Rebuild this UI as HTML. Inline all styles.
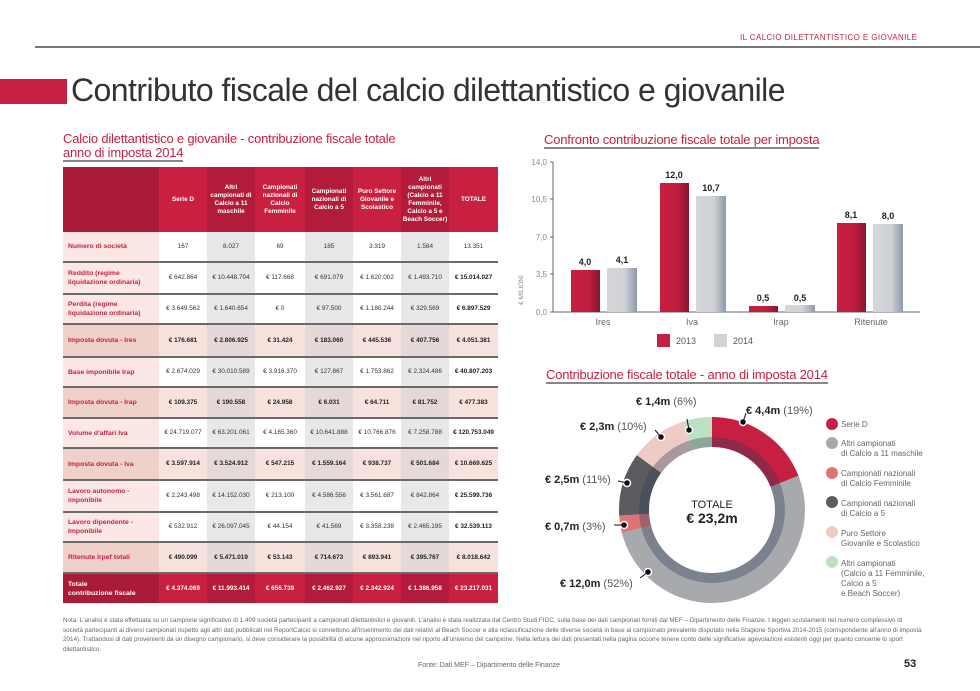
<!DOCTYPE html>
<html><head><meta charset="utf-8"><style>
*{margin:0;padding:0;box-sizing:border-box}
body{width:980px;height:691px;background:#fff;font-family:"Liberation Sans",sans-serif;position:relative;overflow:hidden}
.a{position:absolute}
table{border-collapse:collapse;position:absolute;left:63px;top:167px;width:435px;table-layout:fixed}
td{font-size:6.4px;text-align:center;color:#333;padding:0 1px;border-bottom:2px solid #6a6a6a;line-height:8px}
td.l{text-align:left;color:#c71f41;font-weight:bold;padding-left:5px;padding-right:14px;background:#fbe8e4;font-size:6.8px;line-height:9px}
tr.h td{background:#c9203f;color:#fff;font-weight:bold;border-bottom:none;height:65px}
tr.h td.d{background:#b21c3a}
tr.h td.l{background:#a91b37}
td.g{background:#e8e8ea}
tr.b td{background:#f8e2dd;font-weight:bold;color:#222}
tr.b td.g{background:#e4d9d8}
tr.b td.l{background:#f0d0ca;color:#c71f41}
tr.t td{background:#c9203f;color:#fff;font-weight:bold;border-bottom:none}
tr.t td.g{background:#b21c3a}
tr.t td.l{background:#a91b37;color:#fff;padding-right:8px}
td.k{font-weight:bold;color:#222}
</style></head><body>
<div class="a" style="left:740px;top:33px;font-size:8px;color:#c71f41;letter-spacing:.4px">IL CALCIO DILETTANTISTICO E GIOVANILE</div>
<div class="a" style="left:35px;top:46px;width:945px;height:2px;background:#777"></div>
<div class="a" style="left:0;top:79px;width:67px;height:25px;background:#c71f41"></div>
<div class="a" style="left:71px;top:72px;font-size:32px;color:#333;letter-spacing:-.55px">Contributo fiscale del calcio dilettantistico e giovanile</div>
<div class="a" style="left:63px;top:132px;font-size:13px;color:#c71f41;line-height:14px;letter-spacing:-.2px">Calcio dilettantistico e giovanile - contribuzione fiscale totale<br><span style="border-bottom:2px solid #888">anno di imposta 2014</span></div>
<div class="a" style="left:544px;top:132px;font-size:13px;color:#c71f41;border-bottom:2px solid #888;line-height:15px;letter-spacing:-.2px">Confronto contribuzione fiscale totale per imposta</div>
<div class="a" style="left:546px;top:367px;font-size:13px;color:#c71f41;border-bottom:2px solid #888;line-height:15px;letter-spacing:-.2px">Contribuzione fiscale totale - anno di imposta 2014</div>
<table>
<colgroup><col style="width:96px"><col style="width:48px"><col style="width:48px"><col style="width:50px"><col style="width:48px"><col style="width:48px"><col style="width:48px"><col style="width:49px"></colgroup>
<tr class="h"><td class="l"></td><td>Serie D</td><td class="d">Altri campionati di Calcio a 11 maschile</td><td>Campionati nazionali di Calcio Femminile</td><td class="d">Campionati nazionali di Calcio a 5</td><td>Puro Settore Giovanile e Scolastico</td><td class="d">Altri campionati (Calcio a 11 Femminile, Calcio a 5 e Beach Soccer)</td><td>TOTALE</td></tr>
<tr style="height:30px"><td class="l">Numero di società</td><td>167</td><td class="g">8.027</td><td>69</td><td class="g">185</td><td>3.319</td><td class="g">1.584</td><td>13.351</td></tr>
<tr style="height:32px"><td class="l">Reddito (regime liquidazione ordinaria)</td><td>€ 642.864</td><td class="g">€ 10.448.704</td><td>€ 117.668</td><td class="g">€ 691.079</td><td>€ 1.620.002</td><td class="g">€ 1.493.710</td><td class="k">€ 15.014.027</td></tr>
<tr style="height:30px"><td class="l">Perdita (regime liquidazione ordinaria)</td><td>€ 3.649.562</td><td class="g">€ 1.640.654</td><td>€ 0</td><td class="g">€ 97.500</td><td>€ 1.180.244</td><td class="g">€ 329.569</td><td class="k">€ 6.897.529</td></tr>
<tr class="b" style="height:33px"><td class="l">Imposta dovuta - Ires</td><td>€ 176.681</td><td class="g">€ 2.806.925</td><td>€ 31.424</td><td class="g">€ 183.060</td><td>€ 445.536</td><td class="g">€ 407.756</td><td>€ 4.051.381</td></tr>
<tr style="height:30px"><td class="l">Base imponibile Irap</td><td>€ 2.674.029</td><td class="g">€ 30.010.589</td><td>€ 3.916.370</td><td class="g">€ 127.867</td><td>€ 1.753.862</td><td class="g">€ 2.324.486</td><td class="k">€ 40.807.203</td></tr>
<tr class="b" style="height:31px"><td class="l">Imposta dovuta - Irap</td><td>€ 109.375</td><td class="g">€ 190.558</td><td>€ 24.958</td><td class="g">€ 6.031</td><td>€ 64.711</td><td class="g">€ 81.752</td><td>€ 477.383</td></tr>
<tr style="height:30px"><td class="l">Volume d'affari Iva</td><td>€ 24.719.077</td><td class="g">€ 63.201.061</td><td>€ 4.165.360</td><td class="g">€ 10.641.888</td><td>€ 10.766.876</td><td class="g">€ 7.258.788</td><td class="k">€ 120.753.049</td></tr>
<tr class="b" style="height:32px"><td class="l">Imposta dovuta - Iva</td><td>€ 3.597.914</td><td class="g">€ 3.524.912</td><td>€ 547.215</td><td class="g">€ 1.559.164</td><td>€ 938.737</td><td class="g">€ 501.684</td><td>€ 10.669.625</td></tr>
<tr style="height:32px"><td class="l">Lavoro autonomo - imponibile</td><td>€ 2.243.498</td><td class="g">€ 14.152.030</td><td>€ 213.100</td><td class="g">€ 4.586.556</td><td>€ 3.561.687</td><td class="g">€ 842.864</td><td class="k">€ 25.599.736</td></tr>
<tr style="height:30px"><td class="l">Lavoro dipendente - Imponibile</td><td>€ 532.912</td><td class="g">€ 26.097.045</td><td>€ 44.154</td><td class="g">€ 41.569</td><td>€ 3.358.238</td><td class="g">€ 2.465.195</td><td class="k">€ 32.539.113</td></tr>
<tr class="b" style="height:31px"><td class="l">Ritenute Irpef totali</td><td>€ 490.099</td><td class="g">€ 5.471.019</td><td>€ 53.143</td><td class="g">€ 714.673</td><td>€ 893.941</td><td class="g">€ 395.767</td><td>€ 8.018.642</td></tr>
<tr class="t" style="height:30px"><td class="l">Totale<br>contribuzione fiscale</td><td>€ 4.374.069</td><td class="g">€ 11.993.414</td><td>€ 656.739</td><td class="g">€ 2.462.927</td><td>€ 2.342.924</td><td class="g">€ 1.386.958</td><td>€ 23.217.031</td></tr>
</table>

<svg class="a" style="left:0;top:0" width="980" height="691" font-family="Liberation Sans, sans-serif">
<defs>
<linearGradient id="r" x1="0" x2="1"><stop offset="0" stop-color="#c91f41"/><stop offset=".6" stop-color="#c01d3f"/><stop offset="1" stop-color="#8a1530"/></linearGradient>
<linearGradient id="s" x1="0" x2="1"><stop offset="0" stop-color="#d6d6d9"/><stop offset=".6" stop-color="#cfd1d5"/><stop offset="1" stop-color="#8d9aab"/></linearGradient>
</defs>
<g font-size="8" fill="#888" text-anchor="end">
<text x="547" y="165">14,0</text><text x="547" y="202">10,5</text><text x="547" y="240">7,0</text><text x="547" y="277">3,5</text><text x="547" y="315">0,0</text>
</g>
<line x1="553" y1="162" x2="553" y2="312" stroke="#666"/>
<line x1="553" y1="312" x2="920" y2="312" stroke="#666"/>
<g stroke="#666"><line x1="550" y1="162" x2="553" y2="162"/><line x1="550" y1="199" x2="553" y2="199"/><line x1="550" y1="237" x2="553" y2="237"/><line x1="550" y1="274" x2="553" y2="274"/><line x1="550" y1="312" x2="553" y2="312"/></g>
<text transform="translate(523,290) rotate(-90)" font-size="6.5" fill="#888" text-anchor="middle">€ MILIONI</text>
<rect x="571" y="270" width="29" height="42" fill="url(#r)"/><rect x="607" y="268" width="30" height="44" fill="url(#s)"/>
<rect x="660" y="183" width="29" height="129" fill="url(#r)"/><rect x="696" y="196" width="30" height="116" fill="url(#s)"/>
<rect x="749" y="306" width="29" height="6" fill="url(#r)"/><rect x="785" y="305" width="30" height="7" fill="url(#s)"/>
<rect x="837" y="223" width="29" height="89" fill="url(#r)"/><rect x="873" y="224" width="30" height="88" fill="url(#s)"/>
<g font-size="9" font-weight="bold" fill="#222" text-anchor="middle">
<text x="585" y="265">4,0</text><text x="622" y="263">4,1</text>
<text x="674" y="178">12,0</text><text x="711" y="191">10,7</text>
<text x="763" y="301">0,5</text><text x="800" y="301">0,5</text>
<text x="851" y="218">8,1</text><text x="888" y="219">8,0</text>
</g>
<g font-size="9" fill="#666" text-anchor="middle"><text x="603" y="325">Ires</text><text x="692" y="325">Iva</text><text x="781" y="325">Irap</text><text x="871" y="325">Ritenute</text></g>
<rect x="657" y="334" width="13" height="13" fill="#c71f41"/><text x="676" y="344" font-size="9" fill="#555">2013</text>
<rect x="714" y="334" width="13" height="13" fill="#d3d3d6"/><text x="733" y="344" font-size="9" fill="#555">2014</text>

<g transform="translate(712,510) rotate(-90)" fill="none">
<circle r="78" stroke="#c71f41" stroke-width="30" stroke-dasharray="93.1 400" stroke-dashoffset="0"/>
<circle r="78" stroke="#a7a9ad" stroke-width="30" stroke-dasharray="254.9 400" stroke-dashoffset="-93.1"/>
<circle r="78" stroke="#de7478" stroke-width="30" stroke-dasharray="14.7 500" stroke-dashoffset="-348"/>
<circle r="78" stroke="#5b5c60" stroke-width="30" stroke-dasharray="53.9 500" stroke-dashoffset="-362.7"/>
<circle r="78" stroke="#efcbc6" stroke-width="30" stroke-dasharray="49 500" stroke-dashoffset="-416.6"/>
<circle r="78" stroke="#bde0c4" stroke-width="30" stroke-dasharray="24.5 500" stroke-dashoffset="-465.6"/>
<circle r="68" stroke="#2a3a55" stroke-opacity=".35" stroke-width="10"/>
</g>
<text x="712" y="508" font-size="11" fill="#222" text-anchor="middle">TOTALE</text>
<text x="712" y="523" font-size="14" font-weight="bold" fill="#222" text-anchor="middle">€ 23,2m</text>
<g fill="#111" stroke="#fff" stroke-width="1.5"><circle cx="743" cy="422" r="3.5"/><circle cx="689" cy="430" r="3.5"/><circle cx="661" cy="437" r="3.5"/><circle cx="627" cy="483" r="3.5"/><circle cx="624" cy="525" r="3.5"/><circle cx="648" cy="572" r="3.5"/></g>
<g stroke="#111"><line x1="743" y1="422" x2="746" y2="413"/><line x1="689" y1="430" x2="687" y2="419"/><line x1="661" y1="437" x2="655" y2="430"/><line x1="627" y1="483" x2="618" y2="481"/><line x1="624" y1="525" x2="614" y2="525"/><line x1="648" y1="572" x2="640" y2="578"/></g>
<g font-size="11" fill="#555">
<text x="746" y="414"><tspan font-weight="bold" fill="#222">€ 4,4m</tspan> (19%)</text>
<text x="636" y="405"><tspan font-weight="bold" fill="#222">€ 1,4m</tspan> (6%)</text>
<text x="580" y="430"><tspan font-weight="bold" fill="#222">€ 2,3m</tspan> (10%)</text>
<text x="545" y="483"><tspan font-weight="bold" fill="#222">€ 2,5m</tspan> (11%)</text>
<text x="545" y="530"><tspan font-weight="bold" fill="#222">€ 0,7m</tspan> (3%)</text>
<text x="560" y="587"><tspan font-weight="bold" fill="#222">€ 12,0m</tspan> (52%)</text>
</g>
<g font-size="8" fill="#666">
<circle cx="832" cy="424" r="6" fill="#c71f41"/><text x="841" y="427">Serie D</text>
<circle cx="832" cy="443" r="6" fill="#a7a9ad"/><text x="841" y="446">Altri campionati</text><text x="841" y="456">di Calcio a 11 maschile</text>
<circle cx="832" cy="473" r="6" fill="#de7478"/><text x="841" y="476">Campionati nazionali</text><text x="841" y="486">di Calcio Femminile</text>
<circle cx="832" cy="502" r="6" fill="#5b5c60"/><text x="841" y="506">Campionati nazionali</text><text x="841" y="516">di Calcio a 5</text>
<circle cx="832" cy="532" r="6" fill="#efcbc6"/><text x="841" y="536">Puro Settore</text><text x="841" y="546">Giovanile e Scolastico</text>
<circle cx="832" cy="562" r="6" fill="#bde0c4"/><text x="841" y="566">Altri campionati</text><text x="841" y="576">(Calcio a 11 Femminile,</text><text x="841" y="586">Calcio a 5</text><text x="841" y="596">e Beach Soccer)</text>
</g>
</svg>
<div class="a" style="left:63px;top:616px;width:860px;font-size:6.3px;line-height:9.5px;color:#666">Nota: L'analisi è stata effettuata su un campione significativo di 1.409 società partecipanti a campionati dilettantistici e giovanili. L'analisi è stata realizzata dal Centro Studi FIGC, sulla base dei dati campionari forniti dal MEF – Dipartimento delle Finanze. I leggeri scostamenti nel numero complessivo di società partecipanti ai diversi campionati rispetto agli altri dati pubblicati nel ReportCalcio si connettono all'inserimento dei dati relativi al Beach Soccer e alla riclassificazione delle diverse società in base al campionato prevalente disputato nella Stagione Sportiva 2014-2015 (corrispondente all'anno di imposta 2014). Trattandosi di dati provenienti da un disegno campionario, si deve considerare la possibilità di alcune approssimazioni nel riporto all'universo del campione. Nella lettura dei dati presentati nella pagina occorre tenere conto delle significative agevolazioni esistenti oggi per quanto concerne lo sport dilettantistico.</div>
<div class="a" style="left:418px;top:662px;font-size:7px;color:#666">Fonte: Dati MEF – Dipartimento delle Finanze</div>
<div class="a" style="left:904px;top:658px;font-size:11px;font-weight:bold;color:#222">53</div>
</body></html>
